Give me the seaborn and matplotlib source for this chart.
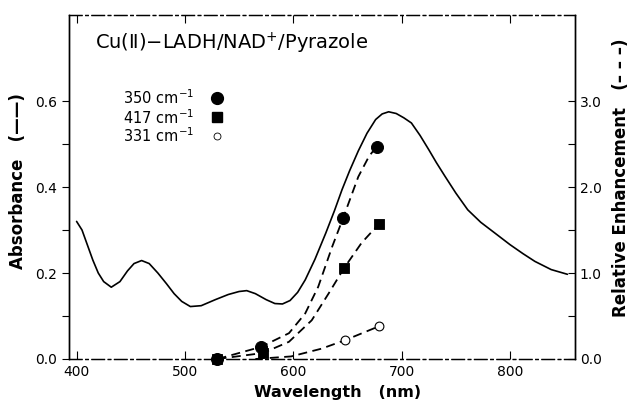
import matplotlib
matplotlib.use("Agg")
import matplotlib.pyplot as plt
import seaborn as sns

# absorbance spectrum (solid line)
wavelength = [400, 405, 410, 415, 420, 425, 432, 440, 447, 453, 460, 467, 475, 483,
              490, 497, 505, 515, 528, 540, 550, 557, 565, 575, 583, 590, 597, 604,
              611, 620, 630, 638, 645, 652, 660, 668, 676, 682, 688, 695, 702, 709,
              717, 725, 732, 740, 750, 761, 773, 786, 800, 812, 823, 838, 853]
absorbance = [0.320, 0.300, 0.265, 0.230, 0.200, 0.180, 0.167, 0.180, 0.205, 0.222,
              0.229, 0.222, 0.200, 0.175, 0.152, 0.134, 0.122, 0.124, 0.138, 0.150,
              0.157, 0.159, 0.152, 0.138, 0.129, 0.128, 0.136, 0.155, 0.184, 0.232,
              0.293, 0.345, 0.394, 0.438, 0.484, 0.525, 0.557, 0.570, 0.575, 0.571,
              0.561, 0.549, 0.520, 0.487, 0.457, 0.425, 0.386, 0.347, 0.318, 0.293,
              0.266, 0.245, 0.227, 0.208, 0.197]

# relative enhancement, measured points
pts_350_wl = [530, 570, 646, 677]
pts_350 = [0.0, 0.14, 1.64, 2.47]
pts_417_wl = [530, 572, 647, 679]
pts_417 = [0.0, 0.07, 1.06, 1.57]
pts_331_wl = [648, 679]
pts_331 = [0.22, 0.38]

# dashed guide curves drawn through the points
curve_350_wl = [530, 570, 596, 611, 623, 636, 646, 660, 670, 677]
curve_350 = [0.0, 0.14, 0.30, 0.53, 0.84, 1.31, 1.64, 2.12, 2.36, 2.47]
curve_417_wl = [530, 572, 596, 617, 633, 647, 663, 679]
curve_417 = [0.0, 0.07, 0.20, 0.45, 0.77, 1.06, 1.35, 1.57]
curve_331_wl = [565, 598, 626, 648, 679]
curve_331 = [0.0, 0.03, 0.12, 0.22, 0.38]

legend_labels = ["350 cm$^{-1}$", "417 cm$^{-1}$", "331 cm$^{-1}$"]

sns.set_style("ticks")
plt.rcParams["font.family"] = ["DejaVu Sans"]
plt.rcParams["text.color"] = "black"
plt.rcParams["axes.labelcolor"] = "black"
plt.rcParams["xtick.color"] = "black"
plt.rcParams["ytick.color"] = "black"
plt.rcParams["axes.edgecolor"] = "black"

fig = plt.figure(figsize=(6.36, 4.08), dpi=100)
ax = fig.add_axes([0.1085, 0.1201, 0.7956, 0.843])
ax2 = ax.twinx()

sns.lineplot(x=wavelength, y=absorbance, ax=ax, color="black", lw=1.2,
             sort=False, estimator=None)

dash = (0, (5, 3))
for cx, cy in [(curve_350_wl, curve_350), (curve_417_wl, curve_417), (curve_331_wl, curve_331)]:
    sns.lineplot(x=cx, y=cy, ax=ax2, color="black", lw=1.3, linestyle=dash,
                 sort=False, estimator=None)

sns.scatterplot(x=pts_350_wl, y=pts_350, ax=ax2, marker="o", s=75, color="black",
                edgecolor="black", zorder=5, clip_on=False)
sns.scatterplot(x=pts_417_wl, y=pts_417, ax=ax2, marker="s", s=60, color="black",
                edgecolor="black", zorder=5, clip_on=False)
sns.scatterplot(x=pts_331_wl, y=pts_331, ax=ax2, marker="o", s=40, facecolor="white",
                edgecolor="black", linewidth=0.8, zorder=5, clip_on=False)

ax.set_xlim(393, 860)
ax.set_ylim(0, 0.8)
ax2.set_ylim(0, 4)

ax.set_xticks([400, 500, 600, 700, 800])
ax.set_xticklabels(["400", "500", "600", "700", "800"], fontsize=10)
ax.set_yticks([0, 0.2, 0.4, 0.6])
ax.set_yticklabels(["0.0", "0.2", "0.4", "0.6"], fontsize=10)
ax.set_yticks([0.1, 0.3, 0.5], minor=True)
ax2.set_yticks([0, 1, 2, 3])
ax2.set_yticklabels(["0.0", "1.0", "2.0", "3.0"], fontsize=10)
ax2.set_yticks([0.5, 1.5, 2.5], minor=True)

ax.tick_params(axis="x", direction="in", top=True, length=6, width=0.8, pad=4)
ax.tick_params(axis="y", which="both", direction="out", length=5, width=0.8)
ax2.tick_params(axis="y", which="both", direction="in", length=5, width=0.8)

for a in (ax, ax2):
    for side in ("left", "right"):
        a.spines[side].set_linewidth(1.0)
    for side in ("top", "bottom"):
        a.spines[side].set_linewidth(0.9)
        a.spines[side].set_linestyle((0, (10, 3, 2, 3)))

ax.set_xlabel("Wavelength   (nm)", fontsize=11.5, fontweight="bold")
ax.xaxis.set_label_coords(0.53, -0.075)
ax.set_ylabel("Absorbance   (——)", fontsize=12, fontweight="bold")
ax.yaxis.set_label_coords(-0.083, 0.517)
ax2.set_ylabel("Relative Enhancement   (– – –)", fontsize=12, fontweight="bold")
ax2.yaxis.set_label_coords(1.073, 0.526)

ax.text(0.051, 0.919, "Cu(Ⅱ)−LADH/NAD$^{+}$/Pyrazole", transform=ax.transAxes,
        fontsize=14, va="center", ha="left")

legend_y = [0.759, 0.703, 0.648]
for lab, yy in zip(legend_labels, legend_y):
    ax.text(0.107, yy, lab, transform=ax.transAxes, fontsize=10.5, va="center", ha="left")
ax.plot([0.292], [legend_y[0]], "o", ms=8.5, color="black", transform=ax.transAxes)
ax.plot([0.292], [legend_y[1]], "s", ms=7.5, color="black", transform=ax.transAxes)
ax.plot([0.292], [legend_y[2]], "o", ms=5, mfc="white", mec="black", mew=0.6,
        transform=ax.transAxes)

fig.savefig("out.png", dpi=100)
